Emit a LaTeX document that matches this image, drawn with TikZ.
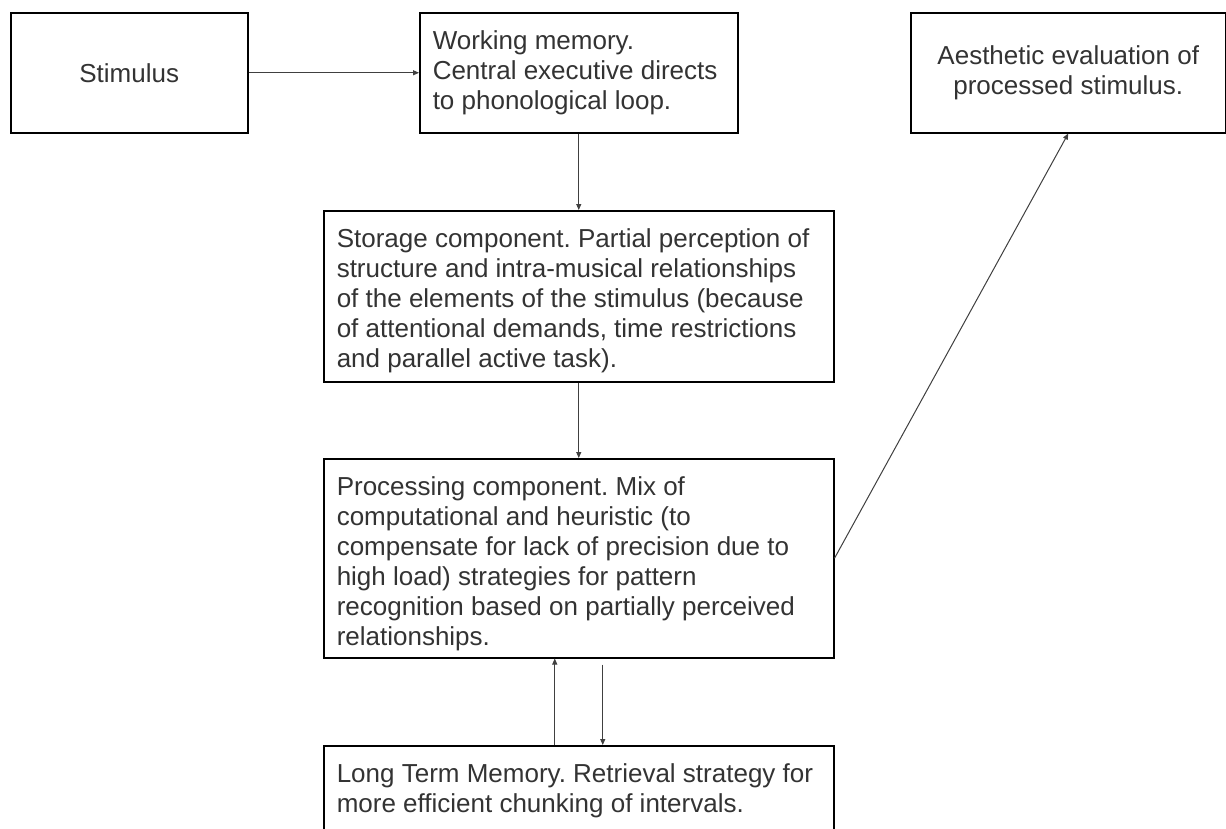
\documentclass[tikz,border=0pt]{standalone}
\usepackage{fontspec}
\setmainfont{Liberation Sans}
\usetikzlibrary{arrows.meta}
\frenchspacing
\tikzset{
  box/.style={draw=black, line width=1.5pt, inner ysep=0pt, inner xsep=13pt, anchor=north west, text=black!80, font=\fontsize{26}{30}\selectfont},
  cbox/.style={draw=black, line width=1.5pt, inner sep=0pt, anchor=north west, align=center, text=black!80, font=\fontsize{26}{30}\selectfont},
  conn/.style={draw=black!75, line width=1pt, -{Triangle[length=6pt,width=5pt]}}
}
\newcommand{\boxtext}[3]{\parbox[t][#2pt][t]{#1pt}{\frenchspacing\raggedright\vspace*{16pt}\strut #3\strut}}
\begin{document}
\begin{tikzpicture}[x=1pt,y=-1pt]
\useasboundingbox (0,0) rectangle (1226,828);
\fill[white] (0,0) rectangle (1226,828);
\clip (0,0) rectangle (1226,828);
\node[cbox, minimum width=237pt, minimum height=120pt] (stim) at (10,12) {Stimulus};
\node[box] (wm) at (419,12) {\boxtext{292}{120}{Working memory.\\Central executive directs\\to phonological loop.}};
\node[cbox, minimum width=315pt, minimum height=120pt] (aes) at (910,12) {Aesthetic evaluation of\\processed stimulus.};
\node[box] (storage) at (323,210) {\boxtext{484}{171}{Storage component. Partial perception of\\structure and intra-musical relationships\\of the elements of the stimulus (because\\of attentional demands, time restrictions\\and parallel active task).}};
\node[box] (proc) at (323,458) {\boxtext{484}{199}{Processing component. Mix of\\computational and heuristic (to\\compensate for lack of precision due to\\high load) strategies for pattern\\recognition based on partially perceived\\relationships.}};
\node[box] (ltm) at (323,745) {\boxtext{484}{130}{Long Term Memory. Retrieval strategy for\\more efficient chunking of intervals.}};
\draw[conn] (stim.east) -- (wm.west);
\draw[conn] (wm.south) -- (storage.north);
\draw[conn] (storage.south) -- (proc.north);
\draw[conn] (proc.east) -- (aes.south);
\draw[conn] ([xshift=-24pt]ltm.north) -- ([xshift=-24pt]proc.south);
\draw[conn] ([xshift=24pt,yshift=-6pt]proc.south) -- ([xshift=24pt]ltm.north);
\end{tikzpicture}
\end{document}
